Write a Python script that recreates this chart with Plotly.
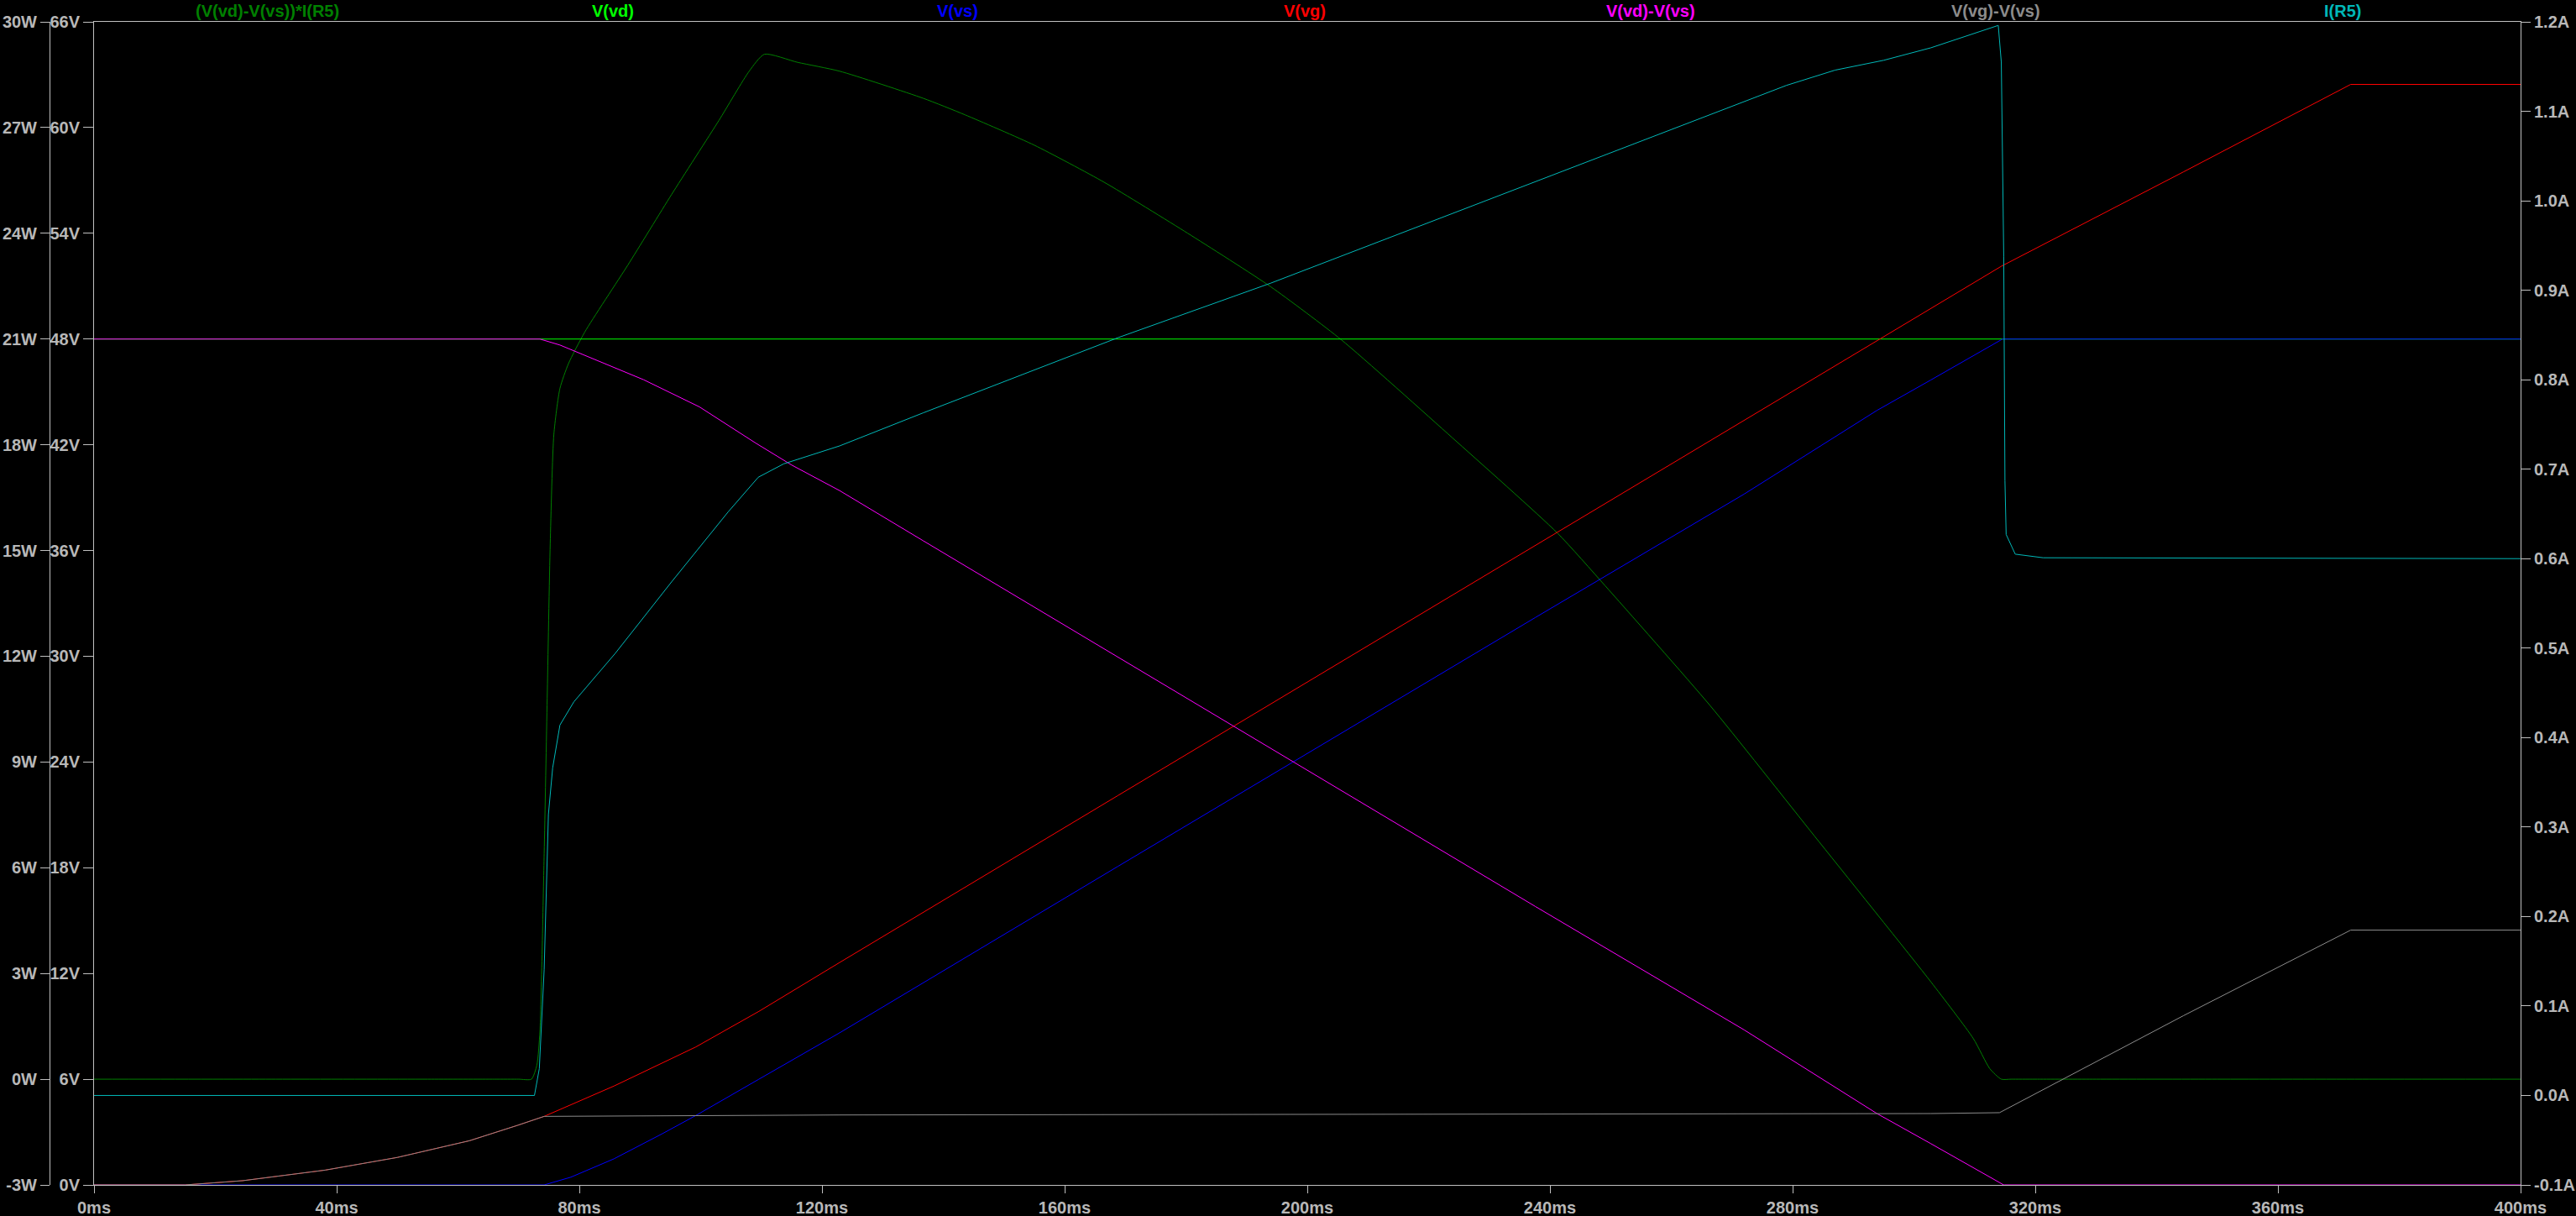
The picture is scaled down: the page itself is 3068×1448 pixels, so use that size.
import plotly.graph_objects as go

# ---------------- data (time in ms) ----------------
# (V(vd)-V(vs))*I(R5)  [W]
t_pwr = [0, 30, 55, 66, 70, 72.1, 73.0, 73.5, 74.2, 74.7, 75.2, 75.8, 76.8, 78.2, 80.9, 88, 95.2,
         103, 108, 110.5, 116, 122.9, 136.7, 143.6, 155, 166.5, 180.3, 194, 205.6, 223.9, 241.2,
         249.1, 266.4, 283.6, 302.8, 309.8, 312.5, 314.4, 316, 320, 330, 350, 375, 400]
pwr = [0, 0, 0, 0, 0, 0, 0.4, 1.36, 6.4, 10.8, 15.2, 18.3, 19.6, 20.3, 21.2, 23.1, 25.1,
       27.2, 28.6, 29.08, 28.85, 28.6, 27.83, 27.36, 26.5, 25.45, 24.0, 22.48, 20.98, 18.2, 15.5,
       14.0, 10.6, 6.9, 2.76, 1.15, 0.3, 0.0, 0.0, 0.0, 0.0, 0.0, 0.0, 0.0]

# V(vd) [V]
t_vd = [0, 400]
v_vd = [48.0, 48.0]

# V(vs) [V]
t_vs = [0, 74.2, 78.6, 85.7, 93.7, 99.2, 109.6, 122.9, 168.8, 237.6, 272, 293.9, 302.8, 314.6, 400]
v_vs = [0, 0, 0.44, 1.48, 2.91, 3.94, 6.0, 8.63, 18.08, 32.2, 39.2, 43.95, 45.68, 48.0, 48.0]

# V(vg) [V]
t_vg = [0, 15, 24.5, 38.1, 50, 61.9, 69.8, 74.2, 85.7, 99.2, 109.6, 122.9, 168.8, 237.6,
        302.8, 314.4, 344.4, 372, 400]
v_vg = [0, 0, 0.24, 0.84, 1.56, 2.51, 3.38, 3.89, 5.61, 7.83, 9.85, 12.62, 22.1, 36.3,
        49.74, 52.13, 57.48, 62.45, 62.45]

# V(vd)-V(vs) [V]
t_vds = [0, 73.5, 76.8, 81.4, 90.6, 99.8, 109.1, 115, 122.9, 136.7, 197.5, 237.6, 272,
         293.9, 302.8, 314.8, 400]
v_vds = [48, 48, 47.66, 47.0, 45.69, 44.15, 42.09, 40.85, 39.4, 36.55, 24.05, 15.8, 8.8,
         4.05, 2.34, 0.0, 0.0]

# V(vg)-V(vs) [V]
t_vgs = [0, 15, 24.5, 38.1, 50, 61.9, 69.8, 74.2, 122.9, 302.8, 314.1, 344.4, 372, 400]
v_vgs = [0, 0, 0.24, 0.84, 1.56, 2.51, 3.38, 3.89, 3.97, 4.05, 4.1, 9.6, 14.46, 14.46]

# I(R5) [A]
t_ir5 = [0, 72.6, 73.4, 74.2, 74.9, 75.6, 76.8, 79.1, 85.9, 95.2, 104.5, 109.5, 113.7, 122.9,
         136.7, 168.8, 194, 237.6, 279, 287, 295, 302.8, 313.9, 314.4, 314.8, 315.0, 315.2,
         316.7, 321.3, 400]
i_r5 = [0, 0, 0.03, 0.141, 0.314, 0.366, 0.414, 0.44, 0.494, 0.574, 0.652, 0.691, 0.706, 0.726,
        0.763, 0.847, 0.908, 1.021, 1.129, 1.146, 1.157, 1.171, 1.196, 1.155, 0.938, 0.687,
        0.627, 0.605, 0.601, 0.600]

# tick labels
x_ticks = [0, 40, 80, 120, 160, 200, 240, 280, 320, 360, 400]
x_labels = ["0ms", "40ms", "80ms", "120ms", "160ms", "200ms", "240ms", "280ms", "320ms", "360ms", "400ms"]
w_ticks = [-3, 0, 3, 6, 9, 12, 15, 18, 21, 24, 27, 30]
w_labels = ["-3W", "0W", "3W", "6W", "9W", "12W", "15W", "18W", "21W", "24W", "27W", "30W"]
v_ticks = [0, 6, 12, 18, 24, 30, 36, 42, 48, 54, 60, 66]
v_labels = ["0V", "6V", "12V", "18V", "24V", "30V", "36V", "42V", "48V", "54V", "60V", "66V"]
a_ticks = [-0.1, 0.0, 0.1, 0.2, 0.3, 0.4, 0.5, 0.6, 0.7, 0.8, 0.9, 1.0, 1.1, 1.2]
a_labels = ["-0.1A", "0.0A", "0.1A", "0.2A", "0.3A", "0.4A", "0.5A", "0.6A", "0.7A", "0.8A",
            "0.9A", "1.0A", "1.1A", "1.2A"]

names = ["(V(vd)-V(vs))*I(R5)", "V(vd)", "V(vs)", "V(vg)", "V(vd)-V(vs)", "V(vg)-V(vs)", "I(R5)"]
colors = ["#008000", "#00ff00", "#0000ff", "#ff0000", "#ff00ff", "#8c8c8c", "#00b8b8"]
label_x_px = [318, 730, 1140, 1554, 1966, 2377, 2790]

# ---------------- layout geometry ----------------
W, H = 3068, 1448
ML, MR, MT, MB = 59, 66, 26, 37
PW = W - ML - MR
x_start = (112 - ML) / PW

AX = "#c0c0c0"
TXT = "#b8b8b8"
FONT = "Liberation Sans"

fig = go.Figure()
fig.add_trace(go.Scatter(x=t_pwr, y=pwr, mode="lines",
                         line=dict(color=colors[0], width=1, shape="spline", smoothing=0.6),
                         yaxis="y", name=names[0]))
for tx, vy, c, n in [(t_vd, v_vd, colors[1], names[1]), (t_vs, v_vs, colors[2], names[2]),
                     (t_vg, v_vg, colors[3], names[3]), (t_vds, v_vds, colors[4], names[4]),
                     (t_vgs, v_vgs, colors[5], names[5])]:
    fig.add_trace(go.Scatter(x=tx, y=vy, mode="lines", line=dict(color=c, width=1),
                             yaxis="y2", name=n))
fig.add_trace(go.Scatter(x=t_ir5, y=i_r5, mode="lines", line=dict(color=colors[6], width=1),
                         yaxis="y3", name=names[6]))

tickfont = dict(family=FONT, size=20, color=TXT, weight="bold")

fig.update_layout(
    width=W, height=H,
    margin=dict(l=ML, r=MR, t=MT, b=MB, pad=0, autoexpand=False),
    paper_bgcolor="black", plot_bgcolor="black",
    showlegend=False,
    xaxis=dict(domain=[x_start, 1], range=[0, 400], tickvals=x_ticks, ticktext=x_labels,
               ticks="outside", ticklen=9, tickcolor=AX, tickwidth=1, automargin=False,
               showline=True, linecolor=AX, linewidth=1, mirror=True,
               showgrid=False, zeroline=False, tickfont=tickfont),
    yaxis=dict(range=[-3, 30], tickvals=w_ticks, ticktext=w_labels, anchor="free", position=0,
               side="left", ticks="outside", ticklen=11, tickcolor=AX, showline=True,
               automargin=False,
               linecolor=AX, linewidth=1, showgrid=False, zeroline=False, tickfont=tickfont),
    yaxis2=dict(range=[0, 66], tickvals=v_ticks, ticktext=v_labels, overlaying="y", anchor="x",
                side="left", ticks="outside", ticklen=12, tickcolor=AX, showline=True,
                automargin=False,
                linecolor=AX, linewidth=1, showgrid=False, zeroline=False, tickfont=tickfont),
    yaxis3=dict(range=[-0.1, 1.2], tickvals=a_ticks, ticktext=a_labels, overlaying="y", anchor="x",
                side="right", ticks="outside", ticklen=11, tickcolor=AX, showline=True,
                automargin=False,
                linecolor=AX, linewidth=1, showgrid=False, zeroline=False, tickfont=tickfont),
)

for n, c, px in zip(names, colors, label_x_px):
    fig.add_annotation(text=n, xref="paper", yref="paper", x=(px - ML) / PW,
                       y=(H - MB - 13) / (H - MT - MB), xanchor="center", yanchor="middle",
                       showarrow=False, font=dict(family=FONT, size=20, color=c, weight="bold"))

fig.write_html("out.html", config={"displayModeBar": False},
               post_script="document.body.style.margin='0';document.body.style.background='black';")
